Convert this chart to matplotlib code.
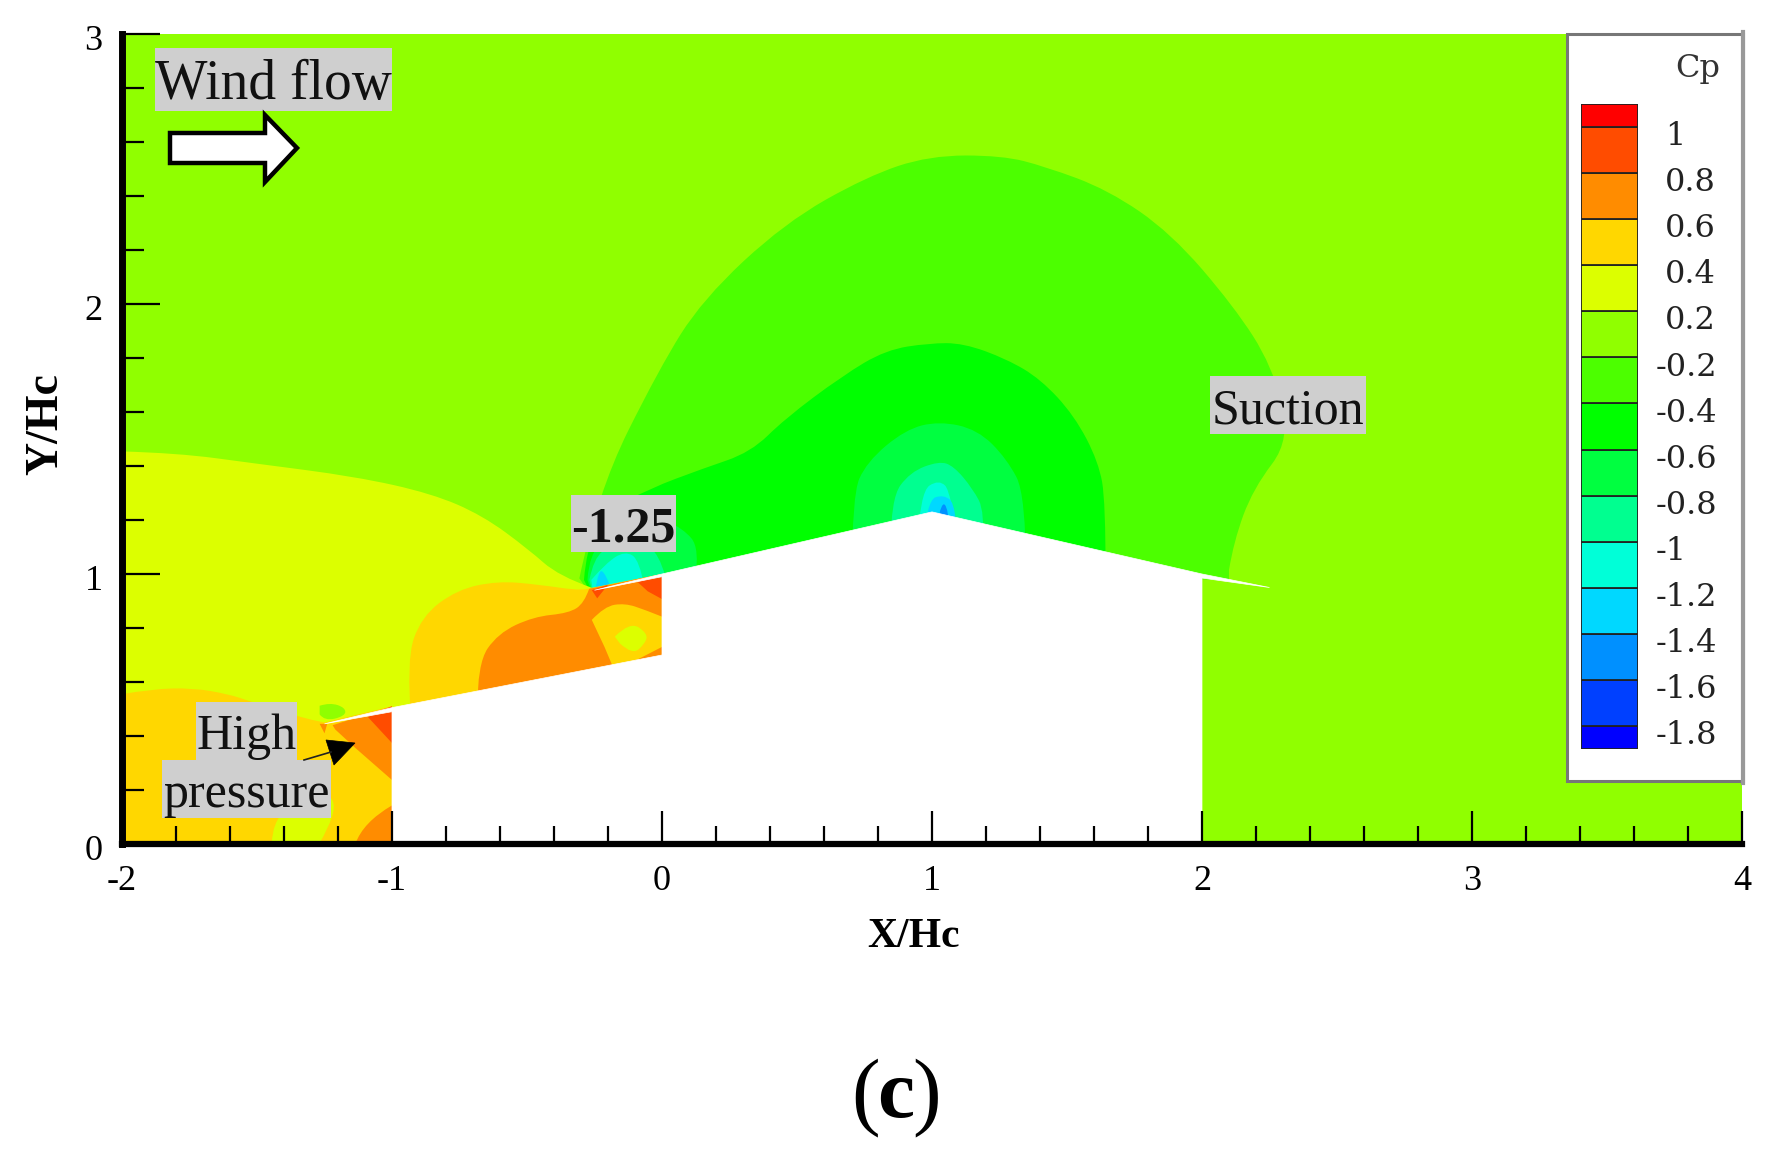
import matplotlib
matplotlib.use('Agg')
import matplotlib.pyplot as plt
from matplotlib.patches import PathPatch, Polygon, Rectangle
from matplotlib.path import Path
from matplotlib.transforms import Affine2D, ScaledTranslation

plt.rcParams['font.family'] = ['Liberation Serif', 'DejaVu Serif']
plt.rcParams['axes.unicode_minus'] = False

W, H = 1779, 1157

# legend levels, bottom to top
cp_labels = ['-1.8', '-1.6', '-1.4', '-1.2', '-1', '-0.8', '-0.6', '-0.4', '-0.2',
             '0.2', '0.4', '0.6', '0.8', '1']
cp_colors = ['#0000ff', '#0040ff', '#0090ff', '#00d8ff', '#00ffd8', '#00ff90', '#00ff40',
             '#00ff00', '#4cff00', '#90ff00', '#dcff00', '#ffd700', '#ff8c00', '#ff4c00', '#ff0000']

x_major = [-2, -1, 0, 1, 2, 3, 4]
y_major = [0, 1, 2, 3]
x_minor = [-1.8, -1.6, -1.4, -1.2, -0.8, -0.6, -0.4, -0.2, 0.2, 0.4, 0.6, 0.8, 1.2, 1.4, 1.6, 1.8,
           2.2, 2.4, 2.6, 2.8, 3.2, 3.4, 3.6, 3.8]
y_minor = [0.2, 0.4, 0.6, 0.8, 1.2, 1.4, 1.6, 1.8, 2.2, 2.4, 2.6, 2.8]

# contour outlines (X/Hc, Y/Hc)
base_02 = [(-2, 0), (4, 0), (4, 3), (-2, 3)]

lobe_m02 = [(-0.306, 0.984), (-0.24, 1.30), (-0.011, 1.76), (0.150, 2.017), (0.454, 2.30),
            (0.758, 2.472), (0.990, 2.55), (1.259, 2.55), (1.42, 2.509), (1.652, 2.423),
            (1.885, 2.263), (2.117, 1.993), (2.26, 1.771), (2.33, 1.5), (2.189, 1.316),
            (2.117, 1.119), (2.10, 1.015), (2.10, 0.975), (2.0, 0.98), (1.9, 0.9), (-0.25, 0.9)]
lobe_m04 = [(-0.289, 0.978), (-0.28, 1.095), (-0.208, 1.23), (-0.047, 1.316), (0.150, 1.39),
            (0.329, 1.451), (0.454, 1.574), (0.668, 1.734), (0.829, 1.83), (0.990, 1.855),
            (1.116, 1.855), (1.277, 1.796), (1.402, 1.722), (1.527, 1.587), (1.617, 1.415),
            (1.643, 1.267), (1.643, 1.0), (-0.25, 0.9)]
peak_m06 = [(0.704, 1.0), (0.704, 1.292), (0.758, 1.415), (0.901, 1.535), (1.026, 1.566),
            (1.169, 1.535), (1.277, 1.427), (1.348, 1.292), (1.348, 1.0)]
peak_m08 = [(0.847, 1.1), (0.847, 1.279), (0.919, 1.378), (1.026, 1.418), (1.08, 1.40),
            (1.151, 1.316), (1.196, 1.23), (1.187, 1.1)]
peak_m10 = [(0.946, 1.1), (0.955, 1.304), (1.026, 1.351), (1.071, 1.304), (1.098, 1.1)]
peak_m12 = [(0.964, 1.1), (0.981, 1.273), (1.044, 1.295), (1.089, 1.255), (1.098, 1.1)]
peak_m14 = [(1.008, 1.1), (1.026, 1.258), (1.062, 1.258), (1.071, 1.1)]

eave_m06 = [(-0.276, 0.978), (-0.27, 1.08), (-0.172, 1.156), (-0.029, 1.215), (0.078, 1.169),
            (0.14, 1.095), (0.123, 0.98), (-0.25, 0.9)]
eave_m08 = [(-0.269, 0.978), (-0.253, 1.058), (-0.19, 1.107), (-0.1, 1.13), (-0.011, 1.082),
            (0.016, 0.98), (-0.25, 0.9)]
eave_m10 = [(-0.262, 0.978), (-0.208, 1.04), (-0.137, 1.086), (-0.083, 1.052), (-0.065, 0.95),
            (-0.25, 0.9)]
eave_m12 = [(-0.247, 0.94), (-0.235, 1.019), (-0.208, 1.0), (-0.19, 0.95)]

region_04 = [(-2, 1.454), (-1.795, 1.448), (-1.512, 1.41), (-1.136, 1.361), (-0.853, 1.298),
             (-0.665, 1.217), (-0.495, 1.092), (-0.382, 0.992), (-0.26, 0.949), (-0.25, 0.85),
             (-1, 0.3), (-1, 0), (-2, 0)]
region_06 = [(-0.929, 0.45), (-0.947, 0.68), (-0.891, 0.843), (-0.759, 0.942), (-0.608, 0.974),
             (-0.458, 0.961), (-0.288, 0.936), (-0.26, 0.949), (0, 1.0), (0, 0.65)]
region_08 = [(-0.684, 0.5), (-0.684, 0.668), (-0.608, 0.78), (-0.476, 0.842), (-0.345, 0.855),
             (-0.288, 0.892), (-0.27, 0.945), (0, 1.0), (0, 0.65)]
island_06 = [(-0.26, 0.83), (-0.213, 0.88), (-0.138, 0.892), (-0.062, 0.867), (0, 0.842), (0, 0.73),
             (-0.175, 0.64), (-0.213, 0.73)]
island_04 = [(-0.175, 0.768), (-0.119, 0.824), (-0.053, 0.78), (-0.062, 0.743), (-0.11, 0.7),
             (-0.156, 0.743)]
wall_1 = [(-0.09, 0.97), (0, 1.0), (0, 0.907), (-0.053, 0.936)]
eave_1 = [(-0.26, 0.94), (-0.2, 0.96), (-0.24, 0.91)]

low_06 = [(-2, 0.555), (-1.89, 0.574), (-1.738, 0.578), (-1.606, 0.555), (-1.53, 0.53), (-1.343, 0.468),
          (-1.25, 0.45), (-1, 0.51), (-1, 0), (-2, 0)]
low_04 = [(-1.445, 0), (-1.445, 0.08), (-1.34, 0.18), (-1.24, 0.2), (-1.2, 0.12), (-1.27, 0)]
low_08 = [(-1.22, 0.44), (-1, 0.51), (-1, 0.237), (-1.136, 0.356), (-1.21, 0.424)]
low_1 = [(-1.089, 0.47), (-1, 0.51), (-1, 0.374)]
foot_08 = [(-1.136, 0), (-1.107, 0.081), (-1, 0.143), (-1, 0)]
blob_02 = [(-1.268, 0.512), (-1.23, 0.524), (-1.173, 0.505), (-1.173, 0.474), (-1.25, 0.455), (-1.268, 0.48)]
blob_08 = [(-1.268, 0.445), (-1.24, 0.445), (-1.25, 0.41)]

building = [(-1, 0), (-1, 0.49), (-1.25, 0.445), (-1, 0.505), (0, 0.70), (0, 0.99), (-0.25, 0.94),
            (0, 1.0), (1, 1.23), (2, 1.0), (2.25, 0.95), (2, 0.985), (2, 0)]

# painted back to front: outline, index into cp_colors, how many leading points form a smooth curve
regions = [(base_02, 9, 0), (lobe_m02, 8, 17), (lobe_m04, 7, 17), (peak_m06, 6, 9), (peak_m08, 5, 8),
           (peak_m10, 4, 5), (peak_m12, 3, 5), (peak_m14, 2, 4), (eave_m06, 6, 7), (eave_m08, 5, 6),
           (eave_m10, 4, 5), (eave_m12, 3, 4), (region_04, 10, 9), (region_06, 11, 8), (region_08, 12, 7),
           (island_06, 11, 5), (island_04, 10, 6), (wall_1, 13, 0), (eave_1, 13, 0), (low_06, 11, 7),
           (low_04, 10, 6), (low_08, 12, 0), (low_1, 13, 0), (foot_08, 12, 3), (blob_02, 9, 6),
           (blob_08, 12, 0)]


def outline_path(pts, n_smooth):
    # quadratic curve through the midpoints of the first n_smooth points, straight lines after
    verts = [pts[0]]
    codes = [Path.MOVETO]
    for i in range(1, max(n_smooth - 1, 1)):
        if n_smooth == 0:
            break
        end = pts[i + 1] if i == n_smooth - 2 else ((pts[i][0] + pts[i + 1][0]) / 2, (pts[i][1] + pts[i + 1][1]) / 2)
        verts += [pts[i], end]
        codes += [Path.CURVE3, Path.CURVE3]
    for p in pts[max(n_smooth, 1):]:
        verts.append(p)
        codes.append(Path.LINETO)
    verts.append(pts[0])
    codes.append(Path.CLOSEPOLY)
    return Path(verts, codes)


fig = plt.figure(figsize=(W / 100, H / 100), dpi=100)
px = Affine2D().scale(1, -1).translate(0, H)  # reference pixels, origin top left

# main axes
ax = fig.add_axes([122 / W, 1 - 844 / H, 1620 / W, 810 / H])
for pts, c, n in regions:
    ax.add_patch(PathPatch(outline_path(pts, n), fc=cp_colors[c], ec='none', lw=0, zorder=1))
ax.fill(*zip(*building), color='white', lw=0.5, zorder=2)

ax.set_xlim(-2, 4)
ax.set_ylim(0, 3)
ax.set_xticks(x_major)
ax.set_xticklabels([str(v) for v in x_major])
ax.set_yticks(y_major)
ax.set_yticklabels([str(v) for v in y_major])
ax.set_xticks(x_minor, minor=True)
ax.set_yticks(y_minor, minor=True)
ax.tick_params(which='both', direction='in', width=1.6, labelsize=26, zorder=3)
ax.tick_params(axis='x', which='major', length=24, pad=15)
ax.tick_params(axis='x', which='minor', length=13)
ax.tick_params(axis='y', which='major', length=27, pad=14)
ax.tick_params(axis='y', which='minor', length=16)
ax.set_axisbelow(False)
shift = ScaledTranslation(0, -4 / 100, fig.dpi_scale_trans)
for t in ax.get_yticklabels():
    t.set_transform(t.get_transform() + shift)
for side in ['top', 'right']:
    ax.spines[side].set_visible(False)
ax.spines['left'].set_linewidth(5)
ax.spines['bottom'].set_linewidth(4.5)

fig.text(914 / W, 1 - 937 / H, 'X/Hc', fontsize=30, fontweight='bold', ha='center', va='center')
fig.text(46 / W, 1 - 424 / H, 'Y/Hc', fontsize=33, fontweight='bold', rotation=90, ha='center', va='center')


def label(x0, y0, x1, y1, text, size, weight='normal'):
    fig.add_artist(Rectangle((x0, y0), x1 - x0, y1 - y0, fc='#cfcfcf', ec='none', transform=px, zorder=5))
    fig.text((x0 + x1) / 2 / W, 1 - ((y0 + y1) / 2 + 6) / H, text, fontsize=size, fontweight=weight,
             ha='center', va='center', color='#111111', zorder=6)


label(155, 48, 392, 111, 'Wind flow', 40)
label(1210, 376, 1366, 434, 'Suction', 36)
label(571, 495, 676, 552, '-1.25', 36, 'bold')
label(196, 702, 297, 760, 'High', 36)
label(162, 760, 331, 818, 'pressure', 36)

# wind arrow
wind_arrow = [(170, 133), (265, 133), (265, 115), (297, 148), (265, 182), (265, 163), (170, 163)]
fig.add_artist(Polygon(wind_arrow, closed=True, fc='white', ec='black', lw=3.2, transform=px, zorder=5))

# small arrow to the high pressure spot
fig.add_artist(Polygon([(326, 740), (355, 743), (334, 765)], closed=True, fc='black', ec='black', lw=0.5,
                       transform=px, zorder=5))
fig.add_artist(plt.Line2D([304, 331], [760, 752], color='#222222', lw=1.2, transform=px, zorder=5))

# legend box
fig.add_artist(Rectangle((1567, 34), 176, 747, fc='white', ec='#777777', lw=2.2, transform=px, zorder=5))
fig.add_artist(plt.Line2D([1743, 1743], [32, 783], color='#999999', lw=3, transform=px, zorder=5))
fig.text(1698 / W, 1 - 68 / H, 'Cp', fontsize=23, family='DejaVu Serif', color='#333333',
         ha='center', va='center', zorder=6)

cax = fig.add_axes([1581 / W, 1 - 749 / H, 57 / W, 645 / H], zorder=7)
cax.patch.set_alpha(0)
for i, c in enumerate(cp_colors):
    y0 = max(i - 1, -0.5)
    y1 = min(i, 13.5)
    cax.barh((y0 + y1) / 2, 1, height=y1 - y0, left=0, color=c, ec='#222222', lw=1.3)
cax.set_xlim(0, 1)
cax.set_ylim(-0.5, 13.5)
cax.axis('off')
for i, lab in enumerate(cp_labels):
    xa = 1.316 if lab.startswith('-') else 1.47
    cax.text(xa, i - 0.21, lab, transform=cax.get_yaxis_transform(), fontsize=23, family='DejaVu Serif',
             color='#222222', ha='left', va='center')

# panel letter
fig.text(851 / W, 1 - 1098 / H, '(', fontsize=62, ha='left', va='center')
fig.text(877 / W, 1 - 1098 / H, 'c', fontsize=60, fontweight='bold', ha='left', va='center')
fig.text(912 / W, 1 - 1098 / H, ')', fontsize=62, ha='left', va='center')

fig.savefig('out.png', dpi=100)
